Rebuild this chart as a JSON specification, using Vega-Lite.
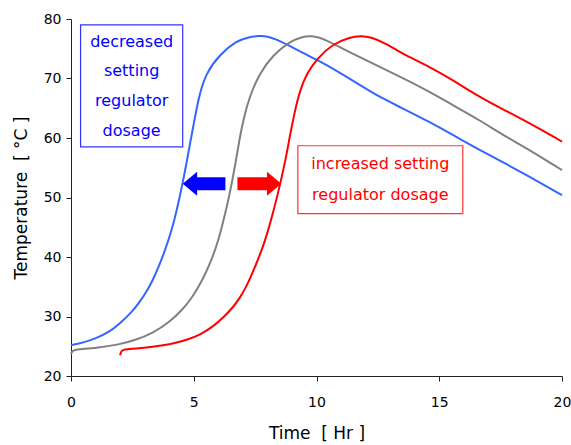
{
  "$schema": "https://vega.github.io/schema/vega-lite/v6.json",
  "width": 491,
  "height": 357,
  "autosize": "none",
  "padding": {"left": 71, "top": 19, "right": 9, "bottom": 69},
  "config": {
    "view": {"stroke": null},
    "font": "DejaVu Sans",
    "axis": {
      "grid": false,
      "labelFlush": false,
      "domainColor": "#222",
      "tickColor": "#222",
      "tickSize": 5,
      "labelFont": "DejaVu Sans",
      "labelFontSize": 14,
      "labelColor": "#000",
      "titleFont": "DejaVu Sans",
      "titleFontSize": 17,
      "titleFontWeight": "normal",
      "titleColor": "#000"
    }
  },
  "datasets": {
    "curves": [
      {"series": "decreased", "t": 0, "temp": 25.2},
      {"series": "decreased", "t": 0.5, "temp": 25.6},
      {"series": "decreased", "t": 1.0, "temp": 26.3},
      {"series": "decreased", "t": 1.57, "temp": 27.4},
      {"series": "decreased", "t": 1.98, "temp": 28.8},
      {"series": "decreased", "t": 2.45, "temp": 30.6},
      {"series": "decreased", "t": 2.79, "temp": 32.4},
      {"series": "decreased", "t": 3.1, "temp": 34.3},
      {"series": "decreased", "t": 3.33, "temp": 36.1},
      {"series": "decreased", "t": 3.6, "temp": 38.6},
      {"series": "decreased", "t": 3.88, "temp": 41.7},
      {"series": "decreased", "t": 4.1, "temp": 44.5},
      {"series": "decreased", "t": 4.29, "temp": 47.5},
      {"series": "decreased", "t": 4.55, "temp": 52.4},
      {"series": "decreased", "t": 4.75, "temp": 56.8},
      {"series": "decreased", "t": 4.9, "temp": 60.2},
      {"series": "decreased", "t": 5.05, "temp": 63.5},
      {"series": "decreased", "t": 5.23, "temp": 67.3},
      {"series": "decreased", "t": 5.5, "temp": 70.9},
      {"series": "decreased", "t": 6.05, "temp": 74.0},
      {"series": "decreased", "t": 6.73, "temp": 76.3},
      {"series": "decreased", "t": 7.2, "temp": 76.9},
      {"series": "decreased", "t": 7.68, "temp": 77.2},
      {"series": "decreased", "t": 8.0, "temp": 77.1},
      {"series": "decreased", "t": 8.36, "temp": 76.6},
      {"series": "decreased", "t": 8.8, "temp": 75.7},
      {"series": "decreased", "t": 9.4, "temp": 74.4},
      {"series": "decreased", "t": 10.04, "temp": 73.1},
      {"series": "decreased", "t": 11.0, "temp": 70.9},
      {"series": "decreased", "t": 12.0, "temp": 68.3},
      {"series": "decreased", "t": 12.57, "temp": 66.9},
      {"series": "decreased", "t": 13.4, "temp": 65.2},
      {"series": "decreased", "t": 14.6, "temp": 62.7},
      {"series": "decreased", "t": 15.6, "temp": 60.4},
      {"series": "decreased", "t": 16.64, "temp": 58.0},
      {"series": "decreased", "t": 17.6, "temp": 55.9},
      {"series": "decreased", "t": 18.68, "temp": 53.5},
      {"series": "decreased", "t": 20, "temp": 50.4},

      {"series": "control", "t": 0, "temp": 23.7},
      {"series": "control", "t": 0.05, "temp": 24.3},
      {"series": "control", "t": 0.3, "temp": 24.5},
      {"series": "control", "t": 1.0, "temp": 24.7},
      {"series": "control", "t": 1.98, "temp": 25.3},
      {"series": "control", "t": 2.6, "temp": 26.0},
      {"series": "control", "t": 3.33, "temp": 27.2},
      {"series": "control", "t": 4.0, "temp": 29.0},
      {"series": "control", "t": 4.55, "temp": 31.2},
      {"series": "control", "t": 4.9, "temp": 33.0},
      {"series": "control", "t": 5.23, "temp": 35.2},
      {"series": "control", "t": 5.5, "temp": 37.4},
      {"series": "control", "t": 5.78, "temp": 40.1},
      {"series": "control", "t": 6.0, "temp": 42.8},
      {"series": "control", "t": 6.18, "temp": 45.6},
      {"series": "control", "t": 6.46, "temp": 50.4},
      {"series": "control", "t": 6.7, "temp": 55.7},
      {"series": "control", "t": 6.86, "temp": 59.8},
      {"series": "control", "t": 7.05, "temp": 63.6},
      {"series": "control", "t": 7.27, "temp": 66.9},
      {"series": "control", "t": 7.68, "temp": 70.9},
      {"series": "control", "t": 8.22, "temp": 73.9},
      {"series": "control", "t": 8.9, "temp": 76.2},
      {"series": "control", "t": 9.4, "temp": 77.0},
      {"series": "control", "t": 9.8, "temp": 77.2},
      {"series": "control", "t": 10.3, "temp": 76.7},
      {"series": "control", "t": 11.34, "temp": 74.4},
      {"series": "control", "t": 12.57, "temp": 72.0},
      {"series": "control", "t": 13.6, "temp": 69.9},
      {"series": "control", "t": 14.6, "temp": 67.8},
      {"series": "control", "t": 15.6, "temp": 65.4},
      {"series": "control", "t": 16.64, "temp": 63.0},
      {"series": "control", "t": 17.6, "temp": 60.5},
      {"series": "control", "t": 18.68, "temp": 58.0},
      {"series": "control", "t": 20, "temp": 54.6},

      {"series": "increased", "t": 2.0, "temp": 23.5},
      {"series": "increased", "t": 2.04, "temp": 24.2},
      {"series": "increased", "t": 2.15, "temp": 24.5},
      {"series": "increased", "t": 2.6, "temp": 24.6},
      {"series": "increased", "t": 3.33, "temp": 24.9},
      {"series": "increased", "t": 4.0, "temp": 25.3},
      {"series": "increased", "t": 4.69, "temp": 26.0},
      {"series": "increased", "t": 5.3, "temp": 27.0},
      {"series": "increased", "t": 5.78, "temp": 28.3},
      {"series": "increased", "t": 6.2, "temp": 29.8},
      {"series": "increased", "t": 6.59, "temp": 31.5},
      {"series": "increased", "t": 6.86, "temp": 33.0},
      {"series": "increased", "t": 7.14, "temp": 35.0},
      {"series": "increased", "t": 7.4, "temp": 37.4},
      {"series": "increased", "t": 7.68, "temp": 40.2},
      {"series": "increased", "t": 7.9, "temp": 42.7},
      {"series": "increased", "t": 8.09, "temp": 45.3},
      {"series": "increased", "t": 8.42, "temp": 50.4},
      {"series": "increased", "t": 8.75, "temp": 56.5},
      {"series": "increased", "t": 8.9, "temp": 60.0},
      {"series": "increased", "t": 9.1, "temp": 64.2},
      {"series": "increased", "t": 9.31, "temp": 67.8},
      {"series": "increased", "t": 9.6, "temp": 70.9},
      {"series": "increased", "t": 10.04, "temp": 73.4},
      {"series": "increased", "t": 10.66, "temp": 75.8},
      {"series": "increased", "t": 11.34, "temp": 76.9},
      {"series": "increased", "t": 11.8, "temp": 77.2},
      {"series": "increased", "t": 12.2, "temp": 77.0},
      {"series": "increased", "t": 12.84, "temp": 75.9},
      {"series": "increased", "t": 13.6, "temp": 73.9},
      {"series": "increased", "t": 14.6, "temp": 72.0},
      {"series": "increased", "t": 15.6, "temp": 69.6},
      {"series": "increased", "t": 16.64, "temp": 66.9},
      {"series": "increased", "t": 17.6, "temp": 64.8},
      {"series": "increased", "t": 18.68, "temp": 62.5},
      {"series": "increased", "t": 20, "temp": 59.4}
    ],
    "boxes": [
      {"dir": "down", "x1": 0.39, "x2": 4.55, "y1": 79.0, "y2": 58.5},
      {"dir": "up", "x1": 9.24, "x2": 15.96, "y1": 58.7, "y2": 47.3}
    ],
    "notes": [
      {"dir": "down", "t": 2.47, "temp": 76.2, "label": "decreased"},
      {"dir": "down", "t": 2.47, "temp": 71.2, "label": "setting"},
      {"dir": "down", "t": 2.47, "temp": 66.2, "label": "regulator"},
      {"dir": "down", "t": 2.47, "temp": 61.2, "label": "dosage"},
      {"dir": "up", "t": 12.6, "temp": 55.6, "label": "increased setting"},
      {"dir": "up", "t": 12.6, "temp": 50.4, "label": "regulator dosage"}
    ],
    "arrows": [
      {"dir": "down", "tail": 6.29, "neck": 5.0, "tip": 4.55, "temp": 52.3},
      {"dir": "up", "tail": 6.78, "neck": 8.1, "tip": 8.57, "temp": 52.3}
    ]
  },
  "layer": [
    {
      "data": {"name": "curves"},
      "mark": {"type": "line", "strokeWidth": 2, "interpolate": "basis"},
      "encoding": {
        "x": {
          "field": "t", "type": "quantitative", "title": "Time\u00a0\u00a0[ Hr ]",
          "scale": {"domain": [0, 20], "nice": false, "zero": false},
          "axis": {"values": [0, 5, 10, 15, 20], "labelPadding": 14, "titlePadding": 16}
        },
        "y": {
          "field": "temp", "type": "quantitative", "title": "Temperature\u00a0\u00a0[ °C ]",
          "scale": {"domain": [20, 80], "nice": false, "zero": false},
          "axis": {"values": [20, 30, 40, 50, 60, 70, 80], "labelPadding": 5, "titlePadding": 13}
        },
        "color": {
          "field": "series", "type": "nominal", "legend": null,
          "scale": {"domain": ["decreased", "control", "increased", "down", "up"], "range": ["#3366FF", "#808080", "#FF0000", "#0000FF", "#FF0000"]}
        },
        "detail": {"field": "series"}
      }
    },
    {
      "data": {"name": "boxes"},
      "mark": {"type": "rect", "fill": "white", "strokeWidth": 1.2},
      "encoding": {
        "x": {"field": "x1", "type": "quantitative", "title": "Time\u00a0\u00a0[ Hr ]"},
        "x2": {"field": "x2"},
        "y": {"field": "y1", "type": "quantitative", "title": "Temperature\u00a0\u00a0[ °C ]"},
        "y2": {"field": "y2"},
        "stroke": {"field": "dir", "type": "nominal", "legend": null, "scale": {"domain": ["down", "up"], "range": ["#3333FF", "#FF3333"]}}
      }
    },
    {
      "data": {"name": "notes"},
      "mark": {"type": "text", "fontSize": 16, "align": "center", "baseline": "middle"},
      "encoding": {
        "x": {"field": "t", "type": "quantitative", "title": "Time\u00a0\u00a0[ Hr ]"},
        "y": {"field": "temp", "type": "quantitative", "title": "Temperature\u00a0\u00a0[ °C ]"},
        "text": {"field": "label"},
        "color": {"field": "dir", "type": "nominal", "legend": null}
      }
    },
    {
      "data": {"name": "arrows"},
      "mark": {"type": "rule", "strokeWidth": 13, "strokeCap": "butt"},
      "encoding": {
        "x": {"field": "tail", "type": "quantitative", "title": "Time\u00a0\u00a0[ Hr ]"},
        "x2": {"field": "neck"},
        "y": {"field": "temp", "type": "quantitative", "title": "Temperature\u00a0\u00a0[ °C ]"},
        "color": {"field": "dir", "type": "nominal", "legend": null}
      }
    },
    {
      "data": {"name": "arrows"},
      "transform": [{"filter": "datum.dir === 'down'"}],
      "mark": {"type": "point", "filled": true, "opacity": 1, "size": 576, "shape": "M0,0L1.2,-1L1.2,1Z"},
      "encoding": {
        "x": {"field": "tip", "type": "quantitative", "title": "Time\u00a0\u00a0[ Hr ]"},
        "y": {"field": "temp", "type": "quantitative", "title": "Temperature\u00a0\u00a0[ °C ]"},
        "color": {"field": "dir", "type": "nominal", "legend": null}
      }
    },
    {
      "data": {"name": "arrows"},
      "transform": [{"filter": "datum.dir === 'up'"}],
      "mark": {"type": "point", "filled": true, "opacity": 1, "size": 576, "shape": "M0,0L-1.2,-1L-1.2,1Z"},
      "encoding": {
        "x": {"field": "tip", "type": "quantitative", "title": "Time\u00a0\u00a0[ Hr ]"},
        "y": {"field": "temp", "type": "quantitative", "title": "Temperature\u00a0\u00a0[ °C ]"},
        "color": {"field": "dir", "type": "nominal", "legend": null}
      }
    }
  ]
}
